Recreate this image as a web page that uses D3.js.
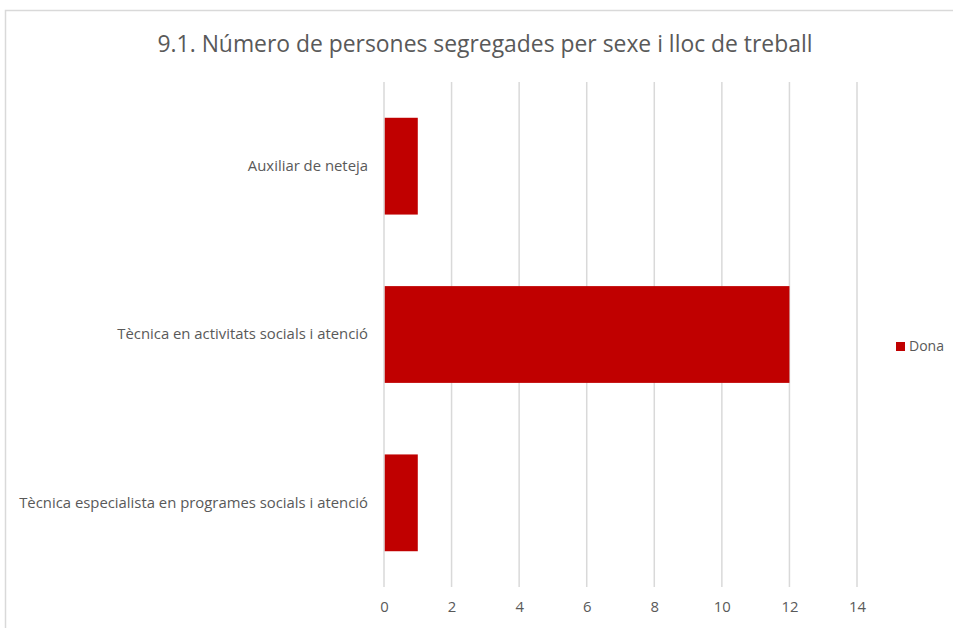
<!DOCTYPE html>
<html><head><meta charset="utf-8">
<script src="https://cdn.jsdelivr.net/npm/d3@7"></script>
<style>body{margin:0;background:#fff;} text{font-family:"Open Sans",Lato,sans-serif;}</style>
</head><body>
<svg id="c" width="953" height="628"></svg>
<script>
const title = "9.1. Número de persones segregades per sexe i lloc de treball";
const categories = ["Auxiliar de neteja","Tècnica en activitats socials i atenció","Tècnica especialista en programes socials i atenció"];
const seriesName = "Dona";
const values = [1, 12, 1];
const xTicks = [0,2,4,6,8,10,12,14];

const svg = d3.select("#c");
svg.append("rect").attr("x",5.5).attr("y",10.5).attr("width",960).attr("height",640)
  .attr("fill","#fff").attr("stroke","#d9d9d9").attr("stroke-width",1.5);

const m = {left:384, right:857, top:82, bottom:587};
const x = d3.scaleLinear().domain([0,14]).range([m.left,m.right]);
const y = d3.scaleBand().domain(categories).range([m.top,m.bottom]).paddingInner(0.425).paddingOuter(0.2125);

function fit(sel, refNode, target, base) {
  const w = refNode.getComputedTextLength();
  sel.style("font-size", (base * target / w).toFixed(2) + "px");
}

const t = svg.append("text").attr("x",485).attr("y",52).attr("text-anchor","middle")
  .attr("fill","#595959").style("font-size","20px").text(title);
fit(t, t.node(), 655, 20);

const grid = svg.append("g");
grid.selectAll("line").data(xTicks).join("line")
  .attr("x1",d=>x(d)).attr("x2",d=>x(d)).attr("y1",m.top).attr("y2",m.bottom)
  .attr("stroke","#d9d9d9").attr("stroke-width",1.5);

svg.append("g").selectAll("rect").data(values).join("rect")
  .attr("x",x(0)+0.75).attr("y",(d,i)=>y(categories[i]))
  .attr("width",d=>x(d)-x(0)-0.75).attr("height",y.bandwidth()).attr("fill","#c00000");

const xAxis = svg.append("g").attr("transform",`translate(0,${m.bottom})`)
  .call(d3.axisBottom(x).tickValues(xTicks).tickSize(0).tickPadding(14).tickFormat(d3.format("d")));
xAxis.select(".domain").remove();
const xt = xAxis.selectAll("text").attr("fill","#595959").style("font-size","13px").style("font-family",null);
fit(xt, xt.nodes()[xt.size()-1], 17, 13);

const yAxis = svg.append("g").attr("transform",`translate(${m.left},0)`)
  .call(d3.axisLeft(y).tickSize(0).tickPadding(16));
yAxis.select(".domain").remove();
const yt = yAxis.selectAll("text").attr("fill","#595959").style("font-size","13px").style("font-family",null);
fit(yt, yt.nodes()[2], 349, 13);

const lg = svg.append("g").attr("transform","translate(896,342)");
lg.append("rect").attr("width",9).attr("height",9).attr("fill","#c00000");
const lt = lg.append("text").attr("x",13).attr("y",4.5).attr("dy","0.35em").attr("fill","#595959")
  .style("font-size","13px").text(seriesName);
fit(lt, lt.node(), 35, 13);
</script>
</body></html>
